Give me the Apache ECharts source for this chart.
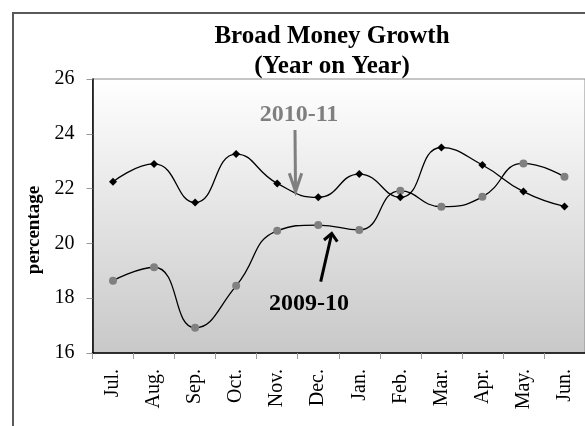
<!DOCTYPE html>
<html>
<head>
<meta charset="utf-8">
<script src="https://cdn.jsdelivr.net/npm/echarts@6/dist/echarts.min.js"></script>
<style>
    html, body { margin: 0; padding: 0; background: #fff; }
    #chart { width: 585px; height: 426px; }
</style>
</head>
<body>
<div id="chart"></div>
<script>
    var months = ['Jul.', 'Aug.', 'Sep.', 'Oct.', 'Nov.', 'Dec.', 'Jan.', 'Feb.', 'Mar.', 'Apr.', 'May.', 'Jun.'];
    var growth2010 = [22.25, 22.9, 21.49, 23.26, 22.19, 21.68, 22.53, 21.68, 23.5, 22.86, 21.89, 21.35];
    var growth2009 = [18.64, 19.13, 16.92, 18.45, 20.46, 20.67, 20.49, 21.92, 21.34, 21.7, 22.92, 22.43];
    var yTicks = { min: 16, max: 26, step: 2 };

    var serif = 'Liberation Serif';
    var myChart = echarts.init(document.getElementById('chart'));

    var option = {
        backgroundColor: '#fff',
        animation: false,
        title: {
            text: 'Broad Money Growth\n(Year on Year)',
            left: 327,
            top: 17,
            textAlign: 'center',
            textStyle: {
                fontFamily: serif,
                fontWeight: 'bold',
                fontSize: 25,
                lineHeight: 30,
                color: '#000'
            }
        },
        grid: {
            left: 92.5,
            top: 79,
            right: 0,
            bottom: 73,
            show: true,
            borderColor: '#8c8c8c',
            borderWidth: 1,
            backgroundColor: new echarts.graphic.LinearGradient(0, 0, 0, 1, [
                {offset: 0, color: '#ffffff'},
                {offset: 1, color: '#c8c8c8'}
            ])
        },
        xAxis: {
            type: 'category',
            data: months,
            boundaryGap: true,
            axisLine: {lineStyle: {color: '#000', width: 1.5}},
            axisTick: {show: true, interval: 0, length: 6, lineStyle: {color: '#999'}},
            axisLabel: {
                interval: 0,
                rotate: 90,
                margin: 16,
                fontFamily: serif,
                fontSize: 20,
                color: '#000'
            }
        },
        yAxis: {
            type: 'value',
            min: yTicks.min,
            max: yTicks.max,
            interval: yTicks.step,
            splitLine: {show: false},
            axisLine: {show: true, lineStyle: {color: '#000', width: 1.5}},
            axisTick: {show: true, length: 6, lineStyle: {color: '#999'}},
            axisLabel: {
                margin: 18,
                fontFamily: serif,
                fontSize: 20,
                color: '#000'
            }
        },
        series: [
            {
                name: '2009-10',
                type: 'line',
                data: growth2009,
                smooth: 0.5,
                symbol: 'circle',
                symbolSize: 8,
                itemStyle: {color: '#808080'},
                lineStyle: {color: '#000', width: 1.3}
            },
            {
                name: '2010-11',
                type: 'line',
                data: growth2010,
                smooth: 0.5,
                symbol: 'diamond',
                symbolSize: 8,
                itemStyle: {color: '#000'},
                lineStyle: {color: '#000', width: 1.3}
            }
        ],
        graphic: [
            {
                type: 'rect',
                silent: true,
                shape: {x: 13, y: 13, width: 620, height: 440},
                style: {fill: null, stroke: '#595959', lineWidth: 2},
                z: 100
            },
            {
                type: 'text',
                x: 34.5, y: 230,
                rotation: Math.PI / 2,
                style: {
                    text: 'percentage',
                    fontFamily: serif,
                    fontWeight: 'bold',
                    fontSize: 19,
                    fill: '#000',
                    align: 'center',
                    verticalAlign: 'middle'
                },
                z: 100
            },
            {
                type: 'text',
                x: 299, y: 115,
                style: {
                    text: '2010-11',
                    fontFamily: serif,
                    fontWeight: 'bold',
                    fontSize: 24,
                    fill: '#7f7f7f',
                    align: 'center',
                    verticalAlign: 'middle'
                },
                z: 100
            },
            {
                type: 'polyline',
                shape: {points: [[295, 130], [295.5, 190]]},
                style: {stroke: '#7f7f7f', lineWidth: 3},
                z: 100
            },
            {
                type: 'polyline',
                shape: {points: [[289.3, 173.3], [295.6, 191.5], [301.7, 173.3]]},
                style: {stroke: '#7f7f7f', lineWidth: 3, fill: null},
                z: 100
            },
            {
                type: 'text',
                x: 309, y: 303.5,
                style: {
                    text: '2009-10',
                    fontFamily: serif,
                    fontWeight: 'bold',
                    fontSize: 24,
                    fill: '#000',
                    align: 'center',
                    verticalAlign: 'middle'
                },
                z: 100
            },
            {
                type: 'polyline',
                shape: {points: [[320.7, 281.7], [331.4, 235]]},
                style: {stroke: '#000', lineWidth: 3},
                z: 100
            },
            {
                type: 'polyline',
                shape: {points: [[324, 240], [331.7, 233.5], [337.3, 241.7]]},
                style: {stroke: '#000', lineWidth: 3, fill: null},
                z: 100
            }
        ]
    };

    myChart.setOption(option);
</script>
</body>
</html>
